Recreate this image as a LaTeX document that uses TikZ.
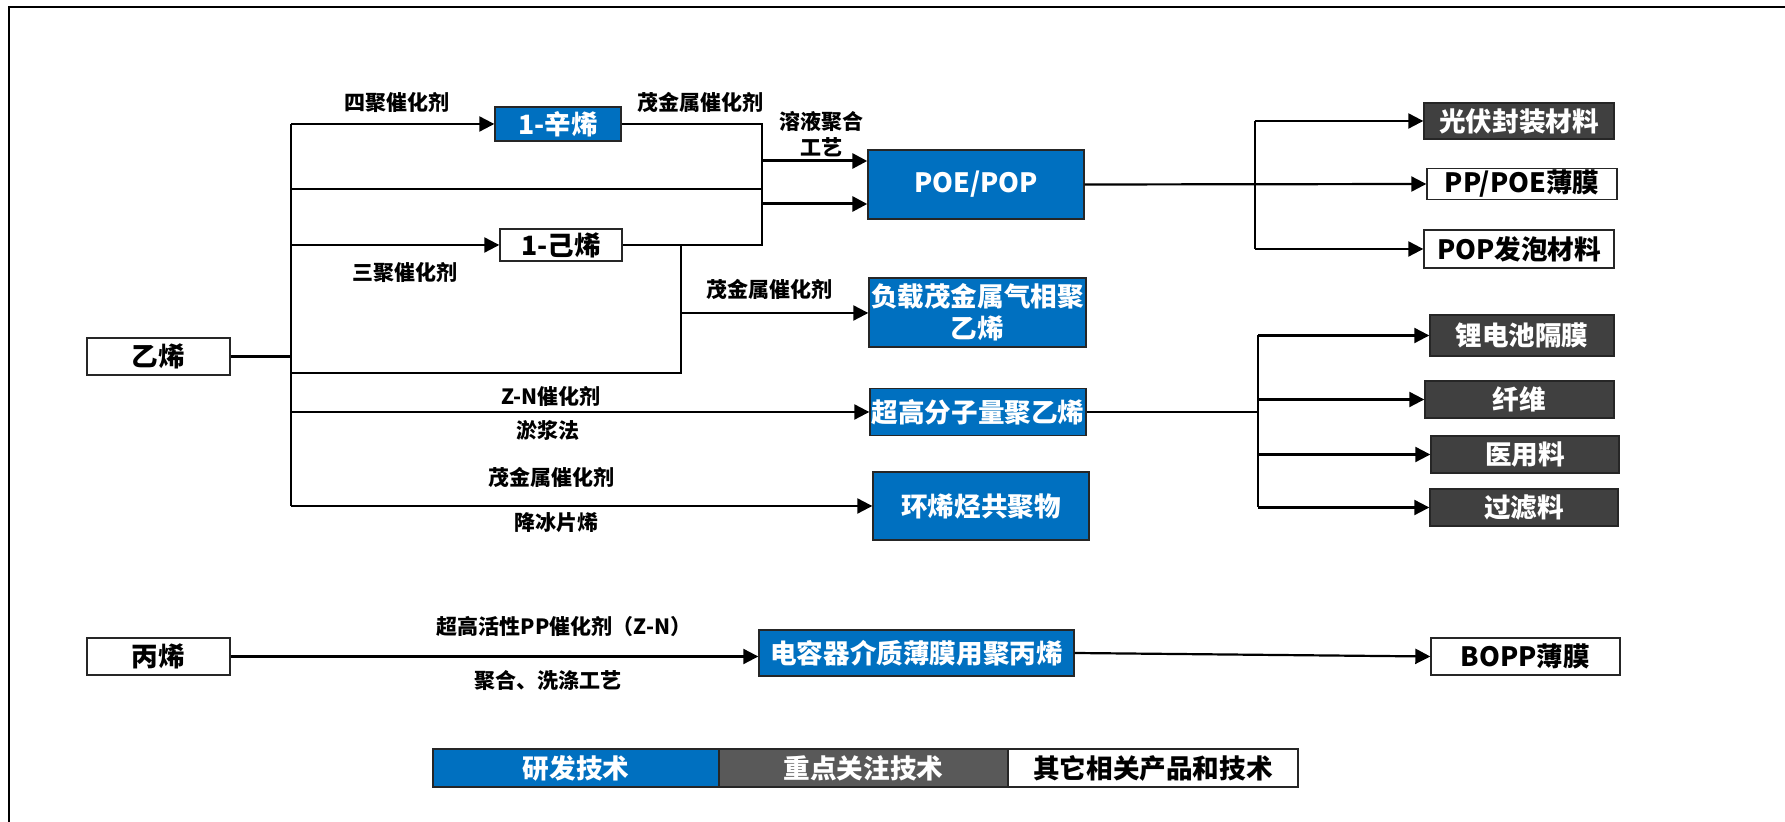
\documentclass[tikz,border=0pt]{standalone}
\usepackage{fontspec}
\setmainfont{Noto Sans CJK SC}
\usetikzlibrary{arrows.meta,positioning}
\definecolor{yanfa}{HTML}{0070C0}
\definecolor{guanzhu}{HTML}{404040}
\definecolor{tuli}{HTML}{595959}

\begin{document}
\begin{tikzpicture}[x=0.5pt,y=-0.5pt,
    box/.style={draw=black!85,line width=0.7pt,inner sep=0pt,align=center,
      font=\bfseries\fontsize{13.3}{16}\selectfont},
    rdbox/.style={box,fill=yanfa,text=white},
    gzbox/.style={box,fill=guanzhu,text=white},
    qtbox/.style={box,fill=white,text=black},
    lbl/.style={align=center,inner sep=0pt,font=\bfseries\fontsize{10.5}{13}\selectfont},
    link/.style={line width=1.1pt},
    arr/.style={line width=1.1pt,-{Triangle[length=7.5pt,width=7.5pt]}},
    legbox/.style={box,outer sep=0pt,minimum height=19pt}]
  \useasboundingbox (0,0) rectangle (1785,822);
  \draw[line width=1.3pt] (9,822) -- (9,7) -- (1785,7);

  % raw materials and products
  \node[qtbox,minimum width=71.5pt,minimum height=18.5pt] (yixi) at (158.5,356.5) {乙烯};
  \node[rdbox,minimum width=63pt,minimum height=17pt] (xinxi) at (558,124) {1-辛烯};
  \node[qtbox,minimum width=61pt,minimum height=16pt] (jixi) at (561,245) {1-己烯};
  \node[rdbox,minimum width=108pt,minimum height=34.5pt] (poe) at (976,184.5) {POE/POP};
  \node[rdbox,minimum width=108.5pt,minimum height=34.5pt] (fuzai) at (977.5,312.5) {负载茂金属气相聚\\乙烯};
  \node[rdbox,minimum width=108pt,minimum height=23.5pt] (chaogao) at (978,412) {超高分子量聚乙烯};
  \node[rdbox,minimum width=108pt,minimum height=34pt] (coc) at (981,506) {环烯烃共聚物};
  \node[qtbox,minimum width=71.5pt,minimum height=18.5pt] (bingxi) at (158.5,656.5) {丙烯};
  \node[rdbox,minimum width=157.5pt,minimum height=23pt] (dianrong) at (916.5,653) {电容器介质薄膜用聚丙烯};

  \node[gzbox,minimum width=95pt,minimum height=18pt] (guangfu) at (1519,121) {光伏封装材料};
  \node[qtbox,minimum width=95pt,minimum height=15.5pt] (ppfilm) at (1522,184) {PP/POE薄膜};
  \node[qtbox,minimum width=95pt,minimum height=19pt] (popfoam) at (1519,249) {POP发泡材料};
  \node[gzbox,minimum width=92pt,minimum height=20.5pt] (lidian) at (1522,335.5) {锂电池隔膜};
  \node[gzbox,minimum width=94.5pt,minimum height=18.5pt] (xianwei) at (1519.5,399.5) {纤维};
  \node[gzbox,minimum width=94pt,minimum height=18.5pt] (yiyong) at (1525,454.5) {医用料};
  \node[gzbox,minimum width=94pt,minimum height=18.5pt] (guolv) at (1524,507.5) {过滤料};
  \node[qtbox,minimum width=94.5pt,minimum height=18.5pt] (bopp) at (1525.5,656.5) {BOPP薄膜};

  % process labels
  \node[lbl] (l1) at (397,102) {四聚催化剂};
  \node[lbl] (l2) at (700,102) {茂金属催化剂};
  \node[lbl] (l3) at (821,134) {溶液聚合\\工艺};
  \node[lbl] (l4) at (405,272) {三聚催化剂};
  \node[lbl] (l5) at (769,289) {茂金属催化剂};
  \node[lbl] (l6) at (551,396) {Z-N催化剂};
  \node[lbl] (l7) at (548,430) {淤浆法};
  \node[lbl] (l8) at (551,477) {茂金属催化剂};
  \node[lbl] (l9) at (556,523) {降冰片烯};
  \node[lbl] (l10) at (564,627) {超高活性PP催化剂（Z-N）};
  \node[lbl] (l11) at (548,680) {聚合、洗涤工艺};

  % branch points
  \coordinate (t1) at (291,124);
  \coordinate (t2) at (291,189);
  \coordinate (t3) at (291,245);
  \coordinate (t5) at (291,373);
  \coordinate (t6) at (291,412);
  \coordinate (t7) at (291,506);
  \coordinate (m1) at (762,124);
  \coordinate (m2) at (762,161);
  \coordinate (m5) at (762,189);
  \coordinate (m3) at (762,204);
  \coordinate (m4) at (762,245);
  \coordinate (k1) at (681,245);
  \coordinate (k2) at (681,313);
  \coordinate (k3) at (681,373);
  \coordinate (b1) at (1255,121);
  \coordinate (b3) at (1255,249);
  \coordinate (c1) at (1258,335.5);
  \coordinate (c2) at (1258,399.5);
  \coordinate (c3) at (1258,454.5);
  \coordinate (c4) at (1258,507.5);

  \draw[link] (yixi.east) -- (yixi.east -| t1);
  \draw[link] (t1) -- (t7);
  \draw[arr] (t1) -- (xinxi.west);
  \draw[link] (t2) -- (m5);
  \draw[arr] (t3) -- (jixi.west);
  \draw[link] (xinxi.east) -- (m1) -- (m4) -- (jixi.east);
  \draw[arr,line width=1.5pt] (m2) -- (m2 -| poe.west);
  \draw[arr,line width=1.5pt] (m3) -- (m3 -| poe.west);
  \draw[link] (k1) -- (k3) -- (t5);
  \draw[arr] (k2) -- (k2 -| fuzai.west);
  \draw[arr] (t6) -- (chaogao.west);
  \draw[arr] (t7) -- (coc.west);
  \draw[arr] (bingxi.east) -- (bingxi.east -| dianrong.west);
  \draw[arr] (dianrong.east) -- (bopp.west);

  \draw[arr] (poe.east) -- (ppfilm.west);
  \draw[link] (b1) -- (b3);
  \draw[arr] (b1) -- (guangfu.west);
  \draw[arr] (b3) -- (popfoam.west);
  \draw[link] (chaogao.east) -- (chaogao.east -| c1);
  \draw[link] (c1) -- (c4);
  \draw[arr] (c1) -- (lidian.west);
  \draw[arr] (c2) -- (xianwei.west);
  \draw[arr] (c3) -- (yiyong.west);
  \draw[arr] (c4) -- (guolv.west);

  % legend
  \node[legbox,fill=yanfa,text=white,minimum width=143pt] (leg1) at (576,768) {研发技术};
  \node[legbox,fill=tuli,text=white,minimum width=144.5pt,right=0pt of leg1] (leg2) {重点关注技术};
  \node[legbox,fill=white,minimum width=145pt,right=0pt of leg2] (leg3) {其它相关产品和技术};
\end{tikzpicture}
\end{document}
